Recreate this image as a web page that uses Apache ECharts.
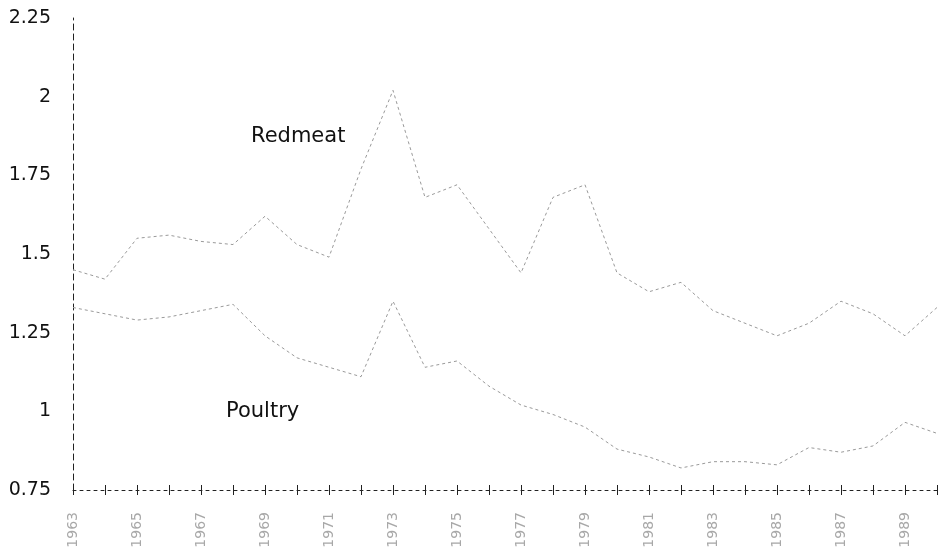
<!DOCTYPE html>
<html>
<head>
<meta charset="utf-8">
<script src="https://cdn.jsdelivr.net/npm/echarts@6/dist/echarts.min.js"></script>
<style>
  html, body { margin: 0; padding: 0; background: #fff; }
  #chart { width: 942px; height: 554px; }
</style>
</head>
<body>
<div id="chart"></div>
<script>
const years = ['1963', '1964', '1965', '1966', '1967', '1968', '1969', '1970', '1971', '1972',
  '1973', '1974', '1975', '1976', '1977', '1978', '1979', '1980', '1981', '1982',
  '1983', '1984', '1985', '1986', '1987', '1988', '1989', '1990'];

const redmeat = [1.45, 1.42, 1.55, 1.56, 1.54, 1.53, 1.62, 1.53, 1.49, 1.77,
  2.02, 1.68, 1.72, 1.58, 1.44, 1.68, 1.72, 1.44, 1.38, 1.41,
  1.32, 1.28, 1.24, 1.28, 1.35, 1.31, 1.24, 1.33];

const poultry = [1.33, 1.31, 1.29, 1.30, 1.32, 1.34, 1.24, 1.17, 1.14, 1.11,
  1.35, 1.14, 1.16, 1.08, 1.02, 0.99, 0.95, 0.88, 0.855, 0.82,
  0.84, 0.84, 0.83, 0.885, 0.87, 0.89, 0.965, 0.93];

const yTicks = { min: 0.75, max: 2.25, step: 0.25 };

const font = 'DejaVu Sans, Liberation Sans, sans-serif';

const chart = echarts.init(document.getElementById('chart'));

const lineStyle = { color: '#9a9a9a', width: 1, type: [3, 3] };

chart.setOption({
  animation: false,
  backgroundColor: '#fff',
  grid: { left: 73, right: 5, top: 18, bottom: 64 },
  xAxis: [
    {
      type: 'category',
      data: years,
      boundaryGap: false,
      axisLine: { lineStyle: { color: '#222', width: 1, type: [3, 4] } },
      axisTick: { show: true, interval: 0, length: 5, lineStyle: { color: '#222' } },
      axisLabel: {
        interval: 1,
        rotate: 90,
        margin: 22,
        color: '#a8a8a8',
        fontSize: 14,
        fontFamily: font
      },
      splitLine: { show: false }
    },
    {
      type: 'category',
      data: years,
      boundaryGap: false,
      position: 'bottom',
      axisLine: { show: false },
      axisTick: { show: true, interval: 0, inside: true, length: 5, lineStyle: { color: '#222' } },
      axisLabel: { show: false },
      splitLine: { show: false }
    }
  ],
  yAxis: {
    type: 'value',
    min: yTicks.min,
    max: yTicks.max,
    interval: yTicks.step,
    axisLine: { show: true, lineStyle: { color: '#222', width: 1, type: [6, 4] } },
    axisTick: { show: false },
    axisLabel: {
      color: '#111',
      fontSize: 19,
      margin: 22,
      fontFamily: font
    },
    splitLine: { show: false }
  },
  series: [
    {
      name: 'Redmeat',
      type: 'line',
      data: redmeat,
      showSymbol: false,
      lineStyle: lineStyle
    },
    {
      name: 'Poultry',
      type: 'line',
      data: poultry,
      showSymbol: false,
      lineStyle: lineStyle
    }
  ],
  graphic: [
    {
      type: 'text',
      left: 251,
      top: 126,
      style: { text: 'Redmeat', fill: '#111', fontSize: 21, fontFamily: font }
    },
    {
      type: 'text',
      left: 226,
      top: 401,
      style: { text: 'Poultry', fill: '#111', fontSize: 21, fontFamily: font }
    }
  ]
});
</script>
</body>
</html>
